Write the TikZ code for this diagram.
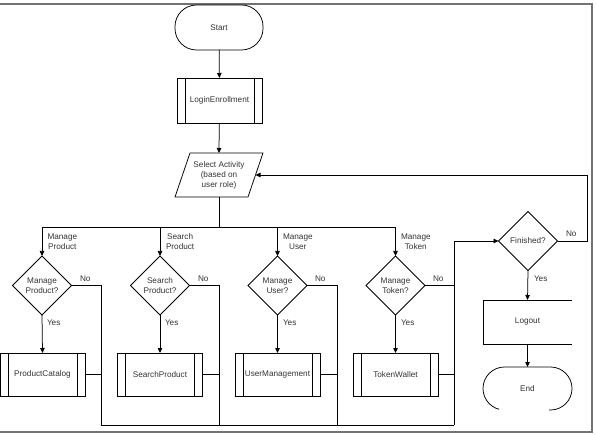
\documentclass[tikz,border=0pt]{standalone}
\usepackage{fontspec}
\setmainfont{Liberation Sans}
\usetikzlibrary{shapes.geometric,arrows.meta,calc}
\begin{document}
\begin{tikzpicture}[x=1pt,y=-1pt,
  font=\fontsize{8.2}{10}\selectfont,
  every node/.style={inner sep=0pt, outer sep=0pt, text=black!80},
  ln/.style={draw=black, line width=0.75pt},
  arr/.style={ln, -{Triangle[length=5pt,width=4.5pt]}},
  term/.style={draw, line width=0.75pt, rounded corners=21.5pt, minimum width=88pt, minimum height=44pt},
  proc/.style={draw, line width=0.75pt, minimum width=85pt, minimum height=44pt,
    path picture={
      \draw[line width=0.75pt] ([xshift=8pt]path picture bounding box.north west) -- ([xshift=8pt]path picture bounding box.south west);
      \draw[line width=0.75pt] ([xshift=-8pt]path picture bounding box.north east) -- ([xshift=-8pt]path picture bounding box.south east);
    }},
  dec/.style={diamond, draw, line width=0.75pt, minimum width=59pt, minimum height=59pt, aspect=1, align=center},
  lbl/.style={align=center, anchor=west}
]
\useasboundingbox (0,0) rectangle (596,435);
% frame
\draw[black!55, line width=1.2pt] (0,4) -- (592,4) -- (592,432) -- (0,432);

% nodes
\node[term, minimum height=45pt] (start) at (219,27.5) {Start};
\node[proc, minimum height=45pt] (login) at (219.5,100.5) {LoginEnrollment};
\node[minimum width=88pt, minimum height=44pt, align=center] (sel) at (219,175) {Select Activity\\(based on\\user role)};
\draw[ln] ([xshift=15pt]sel.north west) -- (sel.north east) -- ([xshift=-15pt]sel.south east) -- (sel.south west) -- cycle;
\coordinate (selR) at ([xshift=-7.5pt]sel.east);

\node[dec] (d1) at (42,285.5) {Manage\\Product?};
\node[dec] (d2) at (160,285.5) {Search\\Product?};
\node[dec] (d3) at (277.5,285.5) {Manage\\User?};
\node[dec] (d4) at (395.5,285.5) {Manage\\Token?};
\node[dec] (fin) at (528,241) {Finished?};

\node[proc, minimum height=43pt] (p1) at (42.5,374.5) {ProductCatalog};
\node[proc, minimum height=43pt] (p2) at (160,374.5) {SearchProduct};
\node[proc, minimum height=43pt] (p3) at (277.5,374.5) {UserManagement};
\node[proc, minimum height=43pt] (p4) at (395.5,374.5) {TokenWallet};

\node[minimum width=89pt, minimum height=44pt] (logout) at (527.5,322) {Logout};
\draw[ln] (logout.north east) -- (logout.north west) -- (logout.south west) -- (logout.south east);
\node[term, minimum width=89pt, minimum height=43pt] (end) at (527.5,388.5) {End};
\draw[white, line width=2pt] (499,410) -- (549,410);

% coordinates
\coordinate (bus) at (219,227);
\coordinate (c1) at (101,425);
\coordinate (c2) at (219,425);
\coordinate (c3) at (337,425);
\coordinate (c4) at (454,425);
\coordinate (nr) at (587,175);

% connectors
\draw[arr] (start) -- (login);
\draw[arr] (login) -- (sel.north);
\draw[ln] (sel.south) -- (bus);
\draw[arr] (bus) -| (d1.north);
\draw[arr] (bus) -| (d2.north);
\draw[arr] (bus) -| (d3.north);
\draw[arr] (bus) -| (d4.north);

\draw[arr] (d1.south) -- (p1.north);
\draw[arr] (d2.south) -- (p2.north);
\draw[arr] (d3.south) -- (p3.north);
\draw[arr] (d4.south) -- (p4.north);

\draw[ln] (d1.east) -| (c1);
\draw[ln] (d2.east) -| (c2);
\draw[ln] (d3.east) -| (c3);
\draw[ln] (d4.east) -| (c4);
\draw[ln] (p1.east) -- (p1.east -| c1);
\draw[ln] (p2.east) -- (p2.east -| c2);
\draw[ln] (p3.east) -- (p3.east -| c3);
\draw[ln] (p4.east) -- (p4.east -| c4);
\draw[ln] (c1) -- (c4);
\draw[arr] (c4) |- (fin.west);

\draw[arr] (fin.east) -| (nr) -- (selR);
\draw[arr] (fin.south) -- (logout.north);
\draw[arr] (logout.south) -- (end.north);

% labels
\node[lbl] at (47.5,241.5) {Manage\\Product};
\node[lbl] at (166,241.5) {Search\\Product};
\node[lbl] at (283,241.5) {Manage\\User};
\node[lbl] at (401,241.5) {Manage\\Token};

\node[lbl] at (47,323) {Yes};
\node[lbl] at (165,323) {Yes};
\node[lbl] at (283,323) {Yes};
\node[lbl] at (401,323) {Yes};
\node[lbl] at (534,279) {Yes};

\node[lbl] at (80,279) {No};
\node[lbl] at (198,279) {No};
\node[lbl] at (315,279) {No};
\node[lbl] at (433,279) {No};
\node[lbl] at (566,234) {No};
\end{tikzpicture}
\end{document}
